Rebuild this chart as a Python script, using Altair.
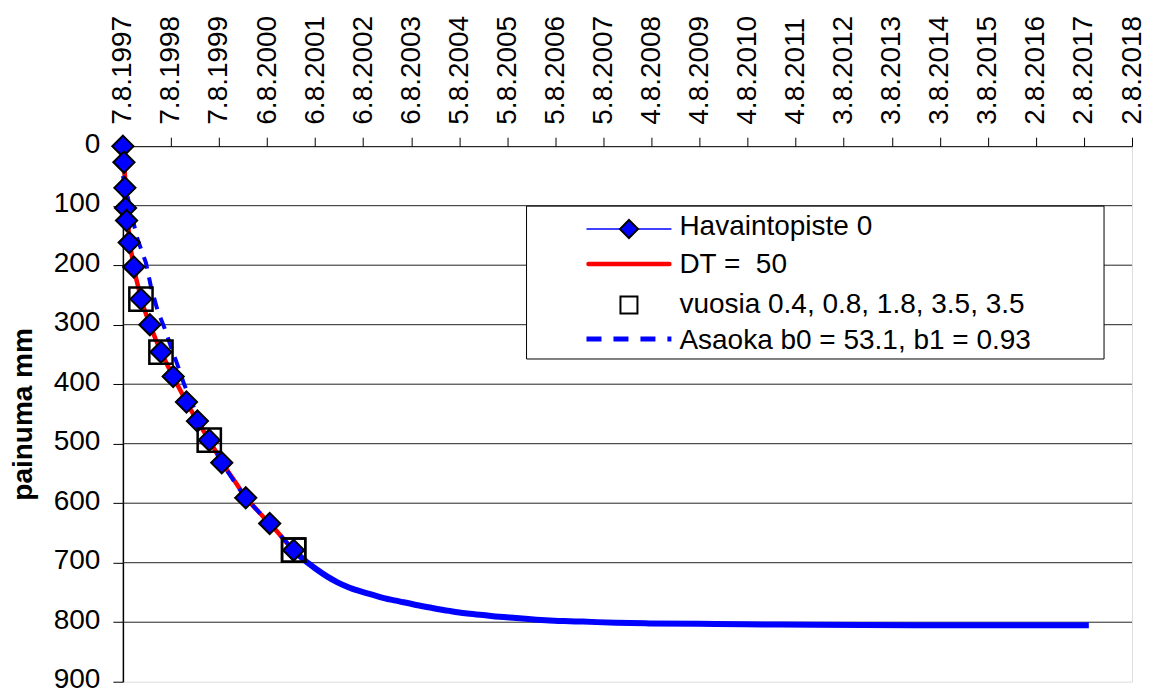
import altair as alt
import pandas as pd

# ---------------- data ----------------
# observed settlement (Havaintopiste 0): days since 7.8.1997, settlement mm
obs_days = [0, 8, 15, 20, 28, 48, 83, 137, 205, 289, 382, 483, 566, 656, 751, 933, 1115, 1297]
obs_mm = [0, 27, 70, 104, 125, 162, 203, 257, 300, 346, 387, 430, 462, 494, 532, 591, 634, 679]

# DT = 50 curve
red_days = [0, 50, 100, 150, 200, 250, 300, 350, 400, 450, 500, 550, 600, 650,
            700, 750, 800, 850, 900, 950, 1000, 1050, 1100, 1150, 1200, 1250]
red_mm = [0, 162, 222, 266, 297, 325, 351, 373, 395, 416, 437, 456, 474, 492,
          511, 531, 547, 563, 580, 595, 607, 619, 631, 642, 655, 668]

# square markers (vuosia 0.4, 0.8, 1.8, 3.5, 3.5)
sq_days = [137, 289, 656, 1297, 1297]
sq_mm = [257, 346, 494, 679, 679]

# Asaoka fit, early (dashed) part
as_days = [0, 106, 175, 212, 262, 322, 368, 425, 463, 560, 660, 760, 850, 933, 1020, 1115, 1200, 1297]
as_mm = [50, 153, 196, 235, 275, 309, 339, 374, 399, 450, 492, 535, 565, 591, 612, 634, 655, 679]

# Asaoka prediction, later part
tail_days = [1297, 1380, 1470, 1550, 1630, 1722, 1850, 1975, 2100, 2228, 2350, 2481,
             2600, 2734, 2860, 2987, 3100, 3240, 3350, 3492, 3746, 3999, 4500, 5000,
             6000, 7337]
tail_mm = [679, 696, 711, 723, 733, 742, 751, 759, 765, 771, 776, 781,
           785, 788, 791, 793, 795, 797, 798, 799, 801, 802, 803, 804,
           805, 805]

tick_labels = ["7.8.1997", "7.8.1998", "7.8.1999", "6.8.2000", "6.8.2001", "6.8.2002",
               "6.8.2003", "5.8.2004", "5.8.2005", "5.8.2006", "5.8.2007", "4.8.2008",
               "4.8.2009", "4.8.2010", "4.8.2011", "3.8.2012", "3.8.2013", "3.8.2014",
               "3.8.2015", "2.8.2016", "2.8.2017", "2.8.2018"]
tick_days = [i * 365 for i in range(len(tick_labels))]
y_ticks = [0, 100, 200, 300, 400, 500, 600, 700, 800, 900]
grid_vals = [100, 200, 300, 400, 500, 600, 700, 800]

legend_labels = ["Havaintopiste 0", "DT = \u00a050", "vuosia 0.4, 0.8, 1.8, 3.5, 3.5",
                 "Asaoka b0 = 53.1, b1 = 0.93"]

FONT = "Liberation Sans"
BLUE = "#0000FF"
RED = "#FF0000"

label_expr = "[" + ",".join("'%s'" % s for s in tick_labels) + "][round(datum.value/365)]"

x_enc = alt.X(
    "d:Q",
    scale=alt.Scale(domain=[0, 7665], nice=False, zero=False),
    axis=alt.Axis(
        orient="top", values=tick_days, labelExpr=label_expr, labelAngle=270,
        labelAlign="left", labelBaseline="middle", labelFontSize=28, labelFont=FONT,
        labelColor="black", tickSize=9, tickColor="black", domainColor="black",
        labelPadding=13, grid=False, labelOverlap=False, labelFlush=False, title=None,
    ),
)
y_enc = alt.Y(
    "mm:Q",
    scale=alt.Scale(domain=[0, 900], reverse=True, nice=False, zero=False),
    axis=alt.Axis(
        values=y_ticks, grid=False, labelFontSize=28, labelFont=FONT, labelColor="black",
        tickSize=10, tickColor="black", domainColor="black", domainWidth=1.5,
        labelPadding=13, labelOffset=-2, title="painuma mm", titleFontSize=28, titleFont=FONT,
        titleFontWeight="bold", titleColor="black", titlePadding=16,
    ),
)

df_obs = pd.DataFrame({"d": obs_days, "mm": obs_mm})
df_red = pd.DataFrame({"d": red_days, "mm": red_mm})
df_sq = pd.DataFrame({"d": sq_days, "mm": sq_mm})
df_as = pd.DataFrame({"d": as_days, "mm": as_mm})
df_tail = pd.DataFrame({"d": tail_days, "mm": tail_mm})
df_grid = pd.DataFrame({"mm": grid_vals})
one = pd.DataFrame({"k": [0]})

grid = alt.Chart(df_grid).mark_rule(color="#222222", strokeWidth=1).encode(y=y_enc)
obs_line = alt.Chart(df_obs).mark_line(color=BLUE, strokeWidth=1.5).encode(x=x_enc, y=y_enc)
red_line = alt.Chart(df_red).mark_line(color=RED, strokeWidth=4.5, strokeCap="round",
                                       strokeJoin="round").encode(x=x_enc, y=y_enc)
as_line = alt.Chart(df_as).mark_line(color=BLUE, strokeWidth=4, strokeDash=[12, 9]).encode(x=x_enc, y=y_enc)
tail_line = alt.Chart(df_tail).mark_line(color=BLUE, strokeWidth=6, interpolate="monotone").encode(
    x=x_enc, y=y_enc)
diamonds = alt.Chart(df_obs).mark_point(
    shape="diamond", size=450, filled=True, fill=BLUE, stroke="black", strokeWidth=2, opacity=1
).encode(x=x_enc, y=y_enc)
squares = alt.Chart(df_sq).mark_point(
    shape="square", size=540, filled=False, stroke="black", strokeWidth=2.5, opacity=1
).encode(x=x_enc, y=y_enc)

# ---------------- legend (drawn by hand) ----------------
LX0, LX1 = 404, 982
LY0, LY1 = 60, 213
SX0, SX1, SXC = 464, 549, 506.5
TX = 557
row_sym = [83, 118, 159, 193]
row_txt = [81, 119, 159, 195]

leg_box = alt.Chart(one).mark_rect(fill="white", stroke="black", strokeWidth=1).encode(
    x=alt.value(LX0), x2=alt.value(LX1), y=alt.value(LY0), y2=alt.value(LY1))
leg1_line = alt.Chart(one).mark_rule(color=BLUE, strokeWidth=1.5).encode(
    x=alt.value(SX0), x2=alt.value(SX1), y=alt.value(row_sym[0]))
leg1_pt = alt.Chart(one).mark_point(
    shape="diamond", size=330, filled=True, fill=BLUE, stroke="black", strokeWidth=2, opacity=1
).encode(x=alt.value(SXC), y=alt.value(row_sym[0]))
leg2_line = alt.Chart(one).mark_rule(color=RED, strokeWidth=4.5, strokeCap="round").encode(
    x=alt.value(SX0 + 2), x2=alt.value(SX1 - 2), y=alt.value(row_sym[1]))
leg3_pt = alt.Chart(one).mark_point(
    shape="square", size=289, filled=False, stroke="black", strokeWidth=2, opacity=1
).encode(x=alt.value(SXC), y=alt.value(row_sym[2]))
leg4_line = alt.Chart(one).mark_rule(color=BLUE, strokeWidth=5, strokeDash=[15, 12]).encode(
    x=alt.value(SX0), x2=alt.value(SX1), y=alt.value(row_sym[3]))

leg_texts = [
    alt.Chart(one).mark_text(align="left", baseline="middle", fontSize=28, font=FONT,
                             color="black", text=legend_labels[i]).encode(
        x=alt.value(TX), y=alt.value(row_txt[i]))
    for i in range(4)
]

chart = alt.layer(
    grid, obs_line, red_line, as_line, tail_line, diamonds, squares,
    leg_box, leg1_line, leg1_pt, leg2_line, leg3_pt, leg4_line, *leg_texts,
).properties(
    width=1010, height=536,
    autosize=alt.AutoSizeParams(type="none"),
    padding={"left": 115, "top": 138, "right": 15, "bottom": 16},
    background="white",
).configure_view(
    stroke="#888888", strokeWidth=2,
).configure(font=FONT)

chart.save("out.html", embed_options={"renderer": "svg", "actions": False})
